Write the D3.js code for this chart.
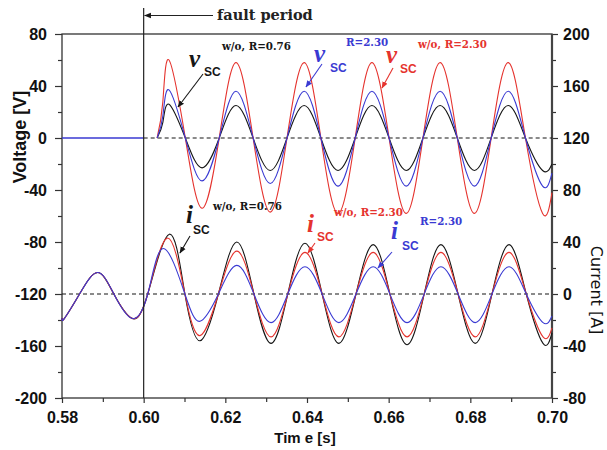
<!DOCTYPE html>
<html>
<head>
<meta charset="utf-8">
<script src="https://cdn.jsdelivr.net/npm/d3@7"></script>
<style>
  body { margin: 0; background: #fff; }
  svg { display: block; }
</style>
</head>
<body>
<svg width="607" height="450"></svg>
<script>
// tick labels
var tTicks = [0.58, 0.60, 0.62, 0.64, 0.66, 0.68, 0.70];
var vTicks = [-200, -160, -120, -80, -40, 0, 40, 80];
var iTicks = [-80, -40, 0, 40, 80, 120, 160, 200];

// voltage, before fault (blue only)
var vPreT = [0.58, 0.60];
var vPreBlue = [0, 0];

// voltage after fault: start, rise, then peaks / zeros / troughs
var vT = [0.6033, 0.6047, 0.6062, 0.6102, 0.6143, 0.6185, 0.6226, 0.6268, 0.6310, 0.6351,
          0.6393, 0.6434, 0.6476, 0.6518, 0.6559, 0.6601, 0.6643, 0.6684, 0.6726, 0.6768,
          0.6810, 0.6851, 0.6893, 0.6935, 0.6977, 0.7000];
var vBlack = [0, 12, 26, 0, -23, 0, 25, 0, -25, 0, 25, 0, -25, 0, 25, 0, -25, 0, 25, 0, -25, 0, 25, 0, -25, -20];
var vRed   = [0, 28, 60, 0, -54, 0, 58, 0, -57, 0, 58, 0, -58, 0, 58, 0, -58, 0, 58, 0, -58, 0, 58, 0, -58, -42];
var vBlue  = [0, 17, 37, 0, -33, 0, 36, 0, -35, 0, 36, 0, -37, 0, 36, 0, -37, 0, 36, 0, -37, 0, 36, 0, -37, -27];

// current, before fault (same for all three)
var cPreT = [0.5800, 0.5806, 0.5843, 0.5887, 0.5927, 0.5971, 0.6010];
var cPre  = [-18.5, -18.7, 0, 16.5, 0, -18.7, 0];

// current after fault: first peak time per curve (black, red, blue), then shared times
var cFirstPeakT = [0.6063, 0.6058, 0.6048];
var cPostT = [0.6101, 0.6138, 0.6183, 0.6228, 0.6270, 0.6312, 0.6353, 0.6395, 0.6437, 0.6478,
              0.6520, 0.6562, 0.6603, 0.6645, 0.6687, 0.6728, 0.6770, 0.6812, 0.6853, 0.6895,
              0.6937, 0.6978, 0.7000];
var cBlack = [46, 0, -36, 0, 40, 0, -38, 0, 39, 0, -38, 0, 38, 0, -39, 0, 38, 0, -38, 0, 38, 0, -38, -30];
var cRed   = [43, 0, -32, 0, 33, 0, -33, 0, 32, 0, -33, 0, 32, 0, -33, 0, 32, 0, -33, 0, 32, 0, -33, -26];
var cBlue  = [35, 0, -21, 0, 22, 0, -22, 0, 21, 0, -22, 0, 21, 0, -22, 0, 21, 0, -22, 0, 21, 0, -22, -17];

var faultT = 0.60;

var BLACK = "#161616", RED = "#e5332e", BLUE = "#3a3ad2";

var svg = d3.select("svg");
var mLeft = 62, mRight = 552, mTop = 34, mBottom = 398;

var x = d3.scaleLinear().domain([0.58, 0.70]).range([mLeft, mRight]);
var yV = d3.scaleLinear().domain([-200, 80]).range([mBottom, mTop]);
var yI = d3.scaleLinear().domain([-80, 200]).range([mBottom, mTop]);

function mids(arr) {
    return d3.pairs(arr).map(function(p) { return (p[0] + p[1]) / 2; });
}

// arrow heads
var defs = svg.append("defs");
[["arrBlack", BLACK], ["arrRed", RED], ["arrBlue", BLUE]].forEach(function(m) {
    defs.append("marker")
        .attr("id", m[0])
        .attr("viewBox", "0 0 10 10")
        .attr("refX", 9).attr("refY", 5)
        .attr("markerWidth", 7).attr("markerHeight", 7)
        .attr("markerUnits", "userSpaceOnUse")
        .attr("orient", "auto")
        .append("path")
        .attr("d", "M0,1 L10,5 L0,9 z")
        .attr("fill", m[1]);
});

// axes
var axFont = "'Liberation Sans', Arial, sans-serif";

function styleAxis(g) {
    g.select(".domain").remove();
    g.selectAll("line").attr("stroke", "#333").attr("stroke-width", 1.2);
    g.selectAll("text")
        .attr("font-family", axFont)
        .attr("font-weight", "bold")
        .attr("font-size", 16)
        .attr("fill", "#111");
}

svg.append("g").attr("transform", "translate(" + mLeft + ",0)")
    .call(d3.axisLeft(yV).tickValues(vTicks).tickSize(7).tickPadding(8)
          .tickFormat(function(d) { return String(d); }))
    .call(styleAxis);
svg.append("g").attr("transform", "translate(" + mLeft + ",0)")
    .call(d3.axisLeft(yV).tickValues(mids(vTicks)).tickSize(4).tickFormat(""))
    .call(styleAxis);

svg.append("g").attr("transform", "translate(" + mRight + ",0)")
    .call(d3.axisRight(yI).tickValues(iTicks).tickSize(6).tickPadding(5)
          .tickFormat(function(d) { return String(d); }))
    .call(styleAxis);
svg.append("g").attr("transform", "translate(" + mRight + ",0)")
    .call(d3.axisRight(yI).tickValues(mids(iTicks)).tickSize(4).tickFormat(""))
    .call(styleAxis);

svg.append("g").attr("transform", "translate(0," + mBottom + ")")
    .call(d3.axisBottom(x).tickValues(tTicks).tickSize(5).tickPadding(9)
          .tickFormat(d3.format(".2f")))
    .call(styleAxis);
svg.append("g").attr("transform", "translate(0," + mBottom + ")")
    .call(d3.axisBottom(x).tickValues(mids(tTicks)).tickSize(4).tickFormat(""))
    .call(styleAxis);

// frame
svg.append("rect")
    .attr("x", mLeft).attr("y", mTop)
    .attr("width", mRight - mLeft).attr("height", mBottom - mTop)
    .attr("fill", "none").attr("stroke", "#333").attr("stroke-width", 1.3);
svg.append("line")
    .attr("x1", mRight).attr("x2", mRight).attr("y1", mTop).attr("y2", mBottom)
    .attr("stroke", "#444").attr("stroke-width", 2.2);

// axis titles
svg.append("text")
    .attr("transform", "translate(26,137) rotate(-90)")
    .attr("text-anchor", "middle")
    .attr("font-family", axFont).attr("font-weight", "bold").attr("font-size", 18)
    .attr("fill", "#111")
    .text("Voltage [V]");
svg.append("text")
    .attr("transform", "translate(591,290) rotate(90)")
    .attr("text-anchor", "middle")
    .attr("font-family", "'DejaVu Sans', Verdana, sans-serif").attr("font-size", 16)
    .attr("fill", "#111")
    .text("Current [A]");
svg.append("text")
    .attr("x", 305).attr("y", 443)
    .attr("text-anchor", "middle")
    .attr("font-family", axFont).attr("font-weight", "bold").attr("font-size", 15)
    .attr("fill", "#111")
    .text("Tim e [s]");

// zero reference lines
svg.append("line")
    .attr("x1", x(faultT)).attr("x2", x(0.70)).attr("y1", yV(0)).attr("y2", yV(0))
    .attr("stroke", BLACK).attr("stroke-width", 1.2).attr("stroke-dasharray", "4,3");
svg.append("line")
    .attr("x1", x(0.58)).attr("x2", x(0.70)).attr("y1", yI(0)).attr("y2", yI(0))
    .attr("stroke", BLACK).attr("stroke-width", 1.2).attr("stroke-dasharray", "4,3");

// curves
var lineV = d3.line().x(function(d) { return x(d[0]); }).y(function(d) { return yV(d[1]); })
    .curve(d3.curveNatural);
var lineI = d3.line().x(function(d) { return x(d[0]); }).y(function(d) { return yI(d[1]); })
    .curve(d3.curveNatural);

function zip(ts, vs) { return ts.map(function(t, i) { return [t, vs[i]]; }); }

var vSeries = [[vBlack, BLACK], [vRed, RED], [vBlue, BLUE]];
vSeries.forEach(function(s) {
    svg.append("path").attr("d", lineV(zip(vT, s[0])))
        .attr("fill", "none").attr("stroke", s[1]).attr("stroke-width", 1.1);
});
svg.append("path").attr("d", lineV(zip(vPreT, vPreBlue)))
    .attr("fill", "none").attr("stroke", BLUE).attr("stroke-width", 1.3);

var cSeries = [[cBlack, BLACK], [cRed, RED], [cBlue, BLUE]];
cSeries.forEach(function(s, k) {
    var pts = zip(cPreT, cPre)
        .concat([[cFirstPeakT[k], s[0][0]]])
        .concat(zip(cPostT, s[0].slice(1)));
    svg.append("path").attr("d", lineI(pts))
        .attr("fill", "none").attr("stroke", s[1]).attr("stroke-width", 1.1);
});

// fault marker
svg.append("line")
    .attr("x1", x(faultT)).attr("x2", x(faultT)).attr("y1", 8).attr("y2", mBottom)
    .attr("stroke", "#222").attr("stroke-width", 1.2);
svg.append("line")
    .attr("x1", 213).attr("x2", x(faultT) + 1).attr("y1", 15.5).attr("y2", 15.5)
    .attr("stroke", "#222").attr("stroke-width", 1.2)
    .attr("marker-end", "url(#arrBlack)");
svg.append("text")
    .attr("x", 217).attr("y", 20)
    .attr("font-family", "'DejaVu Serif', 'Liberation Serif', serif")
    .attr("font-weight", "bold").attr("font-size", 14.5).attr("fill", "#222")
    .text("fault period");

// annotations
var serif = "'Liberation Serif', 'Times New Roman', serif";
var noteFont = "'DejaVu Serif', 'Liberation Serif', serif";
var notes = [
    { t: "w/o, R=0.76", x: 222, y: 50, c: BLACK },
    { t: "R=2.30", x: 346, y: 46, c: BLUE },
    { t: "w/o, R=2.30", x: 418, y: 48, c: RED },
    { t: "w/o, R=0.76", x: 213, y: 210, c: BLACK },
    { t: "w/o, R=2.30", x: 334, y: 216, c: RED },
    { t: "R=2.30", x: 420, y: 225, c: BLUE }
];
notes.forEach(function(n) {
    svg.append("text").attr("x", n.x).attr("y", n.y)
        .attr("font-family", noteFont).attr("font-weight", "bold").attr("font-size", 10.3)
        .attr("fill", n.c).text(n.t);
});

var syms = [
    { s: "v", x: 189, y: 67, sx: 204, sy: 76, c: BLACK, m: "arrBlack", a: [203, 74, 178, 107] },
    { s: "v", x: 314, y: 62, sx: 330, sy: 72, c: BLUE, m: "arrBlue", a: [322, 64, 306, 87] },
    { s: "v", x: 386, y: 63, sx: 400, sy: 73, c: RED, m: "arrRed", a: [393, 68, 382, 88] },
    { s: "i", x: 186, y: 223, sx: 193, sy: 234, c: BLACK, m: "arrBlack", a: [190, 236, 180, 253] },
    { s: "i", x: 307, y: 232, sx: 317, sy: 241, c: RED, m: "arrRed", a: [315, 243, 308, 253] },
    { s: "i", x: 391, y: 239, sx: 402, sy: 250, c: BLUE, m: "arrBlue", a: [392, 252, 378, 268] }
];
syms.forEach(function(d) {
    svg.append("text").attr("x", d.x).attr("y", d.y)
        .attr("font-family", serif).attr("font-style", "italic").attr("font-weight", "bold")
        .attr("font-size", 25).attr("fill", d.c).text(d.s);
    svg.append("text").attr("x", d.sx).attr("y", d.sy)
        .attr("font-family", axFont).attr("font-weight", "bold")
        .attr("font-size", 12).attr("fill", d.c).text("SC");
    svg.append("line")
        .attr("x1", d.a[0]).attr("y1", d.a[1]).attr("x2", d.a[2]).attr("y2", d.a[3])
        .attr("stroke", d.c).attr("stroke-width", 1.1)
        .attr("marker-end", "url(#" + d.m + ")");
});
</script>
</body>
</html>
